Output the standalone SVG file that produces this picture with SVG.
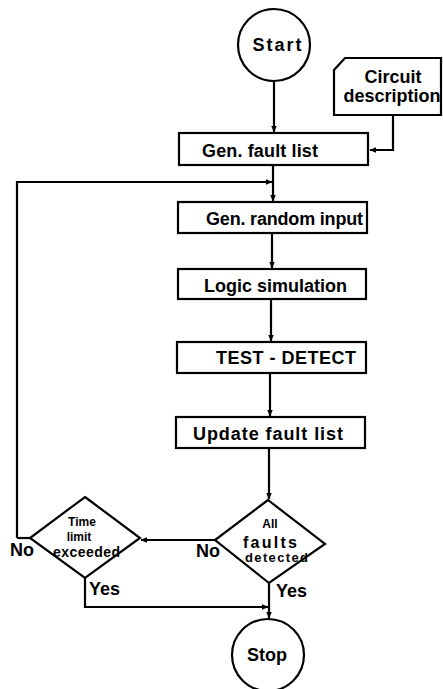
<svg xmlns="http://www.w3.org/2000/svg" width="443" height="689" viewBox="0 0 443 689">
  <style>
    .shape { fill: #ffffff; stroke: #000000; stroke-width: 2.2; }
    .wire { fill: none; stroke: #000000; stroke-width: 2.2; }
    .lbl { font-family: "Liberation Sans", Arial, sans-serif; font-weight: bold; fill: #000000; }
    .big { font-size: 18px; }
    .small { font-size: 13px; }
    .tiny { font-size: 12px; }
  </style>
  <defs>
    <marker id="arrow" viewBox="0 0 10 10" refX="9" refY="5" markerWidth="7" markerHeight="7" markerUnits="userSpaceOnUse" orient="auto">
      <path d="M0,1 L10,5 L0,9 Z" fill="#000000"/>
    </marker>
  </defs>
  <rect width="443" height="689" fill="#ffffff"/>

  <!-- connectors -->
  <g id="connectors">
    <path class="wire" d="M274,81 V132" marker-end="url(#arrow)"/>
    <path class="wire" d="M393,115 V150 H370" marker-end="url(#arrow)"/>
    <path class="wire" d="M273,165 V201" marker-end="url(#arrow)"/>
    <path class="wire" d="M17,538 H30"/>
    <path class="wire" d="M17,538 V182 H272" marker-end="url(#arrow)"/>
    <path class="wire" d="M272,233 V268" marker-end="url(#arrow)"/>
    <path class="wire" d="M271,299 V341" marker-end="url(#arrow)"/>
    <path class="wire" d="M270,373 V416" marker-end="url(#arrow)"/>
    <path class="wire" d="M269,448 V499" marker-end="url(#arrow)"/>
    <path class="wire" d="M215,540 H141" marker-end="url(#arrow)"/>
    <path class="wire" d="M85,578 V607 H268" marker-end="url(#arrow)"/>
    <path class="wire" d="M269,583 V618" marker-end="url(#arrow)"/>
  </g>

  <g id="start">
    <circle class="shape" cx="274" cy="45" r="36"/>
    <text class="lbl big" x="277" y="51" text-anchor="middle" textLength="49" lengthAdjust="spacing">Start</text>
  </g>

  <g id="circuit-description">
    <path class="shape" d="M345,58 H441 V115 H334 V70 Z"/>
    <text class="lbl big" x="393" y="83" text-anchor="middle">Circuit</text>
    <text class="lbl big" x="392" y="102" text-anchor="middle">description</text>
  </g>

  <g id="gen-fault-list">
    <rect class="shape" x="179" y="133" width="189" height="32"/>
    <text class="lbl big" x="202" y="157" textLength="116" lengthAdjust="spacing">Gen. fault list</text>
  </g>

  <g id="gen-random-input">
    <rect class="shape" x="178" y="202" width="189" height="31"/>
    <text class="lbl big" x="206" y="225" textLength="157" lengthAdjust="spacing">Gen. random input</text>
  </g>

  <g id="logic-simulation">
    <rect class="shape" x="178" y="269" width="188" height="30"/>
    <text class="lbl big" x="204" y="292" textLength="143" lengthAdjust="spacing">Logic simulation</text>
  </g>

  <g id="test-detect">
    <rect class="shape" x="177" y="342" width="189" height="31"/>
    <text class="lbl big" x="216" y="364" textLength="140" lengthAdjust="spacing">TEST - DETECT</text>
  </g>

  <g id="update-fault-list">
    <rect class="shape" x="176" y="417" width="189" height="31"/>
    <text class="lbl big" x="193" y="440" textLength="150" lengthAdjust="spacing">Update fault list</text>
  </g>

  <g id="all-faults-detected">
    <path class="shape" d="M268,500 L325,544 L269,583 L215,540 Z"/>
    <text class="lbl tiny" x="270" y="528" text-anchor="middle">All</text>
    <text class="lbl" x="243" y="548" font-size="16" textLength="54" lengthAdjust="spacing">faults</text>
    <text class="lbl small" x="245" y="562" textLength="63" lengthAdjust="spacing">detected</text>
  </g>

  <g id="time-limit-exceeded">
    <path class="shape" d="M85,497 L140,538 L85,578 L30,538 Z"/>
    <text class="lbl tiny" x="82" y="526" text-anchor="middle">Time</text>
    <text class="lbl tiny" x="79" y="541" text-anchor="middle">limit</text>
    <text class="lbl" x="53" y="557" font-size="14" textLength="67" lengthAdjust="spacing">exceeded</text>
  </g>

  <g id="stop">
    <circle class="shape" cx="268" cy="655" r="36"/>
    <text class="lbl big" x="267" y="661" text-anchor="middle">Stop</text>
  </g>

  <g id="branch-labels">
    <text class="lbl big" x="10" y="556">No</text>
    <text class="lbl big" x="196" y="557">No</text>
    <text class="lbl big" x="89" y="595">Yes</text>
    <text class="lbl big" x="276" y="597">Yes</text>
  </g>
</svg>
